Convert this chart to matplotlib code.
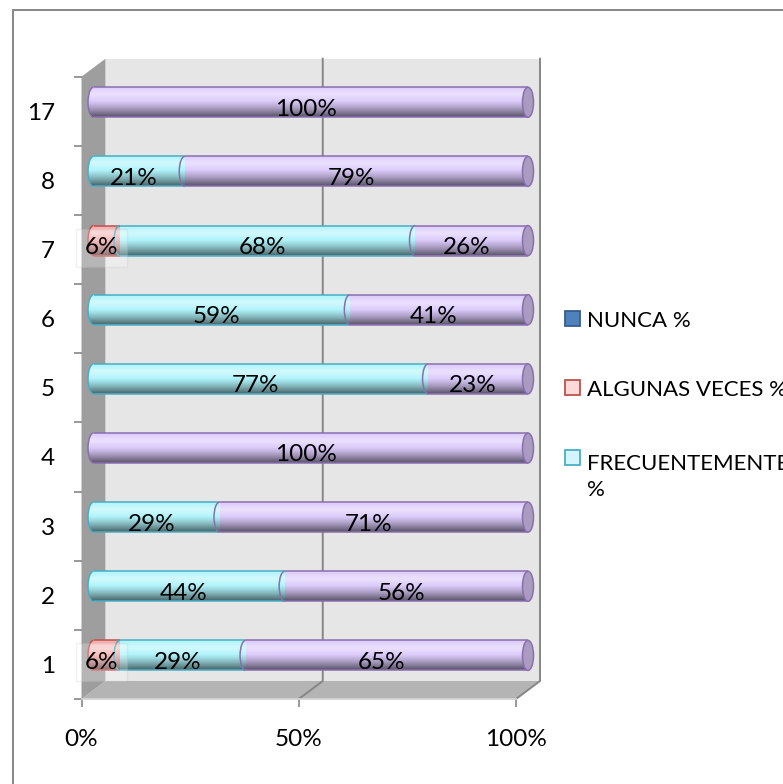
import numpy as np
import matplotlib
matplotlib.use('Agg')
import matplotlib.pyplot as plt
from matplotlib.patches import Polygon, Ellipse, Arc, Rectangle

# datos (de abajo hacia arriba)
categorias = ['1', '2', '3', '4', '5', '6', '7', '8', '17']
nunca = [0, 0, 0, 0, 0, 0, 0, 0, 0]
algunas = [6, 0, 0, 0, 0, 0, 6, 0, 0]
frecuente = [29, 44, 29, 0, 77, 59, 68, 21, 0]
siempre = [65, 56, 71, 100, 23, 41, 26, 79, 100]
nombres = ['NUNCA %', 'ALGUNAS VECES %', 'FRECUENTEMENTE\n%']
ticks_x = ['0%', '50%', '100%']

series = [nunca, algunas, frecuente, siempre]
relleno = ['#4f81bd', '#f6a8a8', '#b0f4fb', '#dccbfb']
borde = ['#385d8a', '#c0504d', '#4bacc6', '#8a6fb0']

plt.rcParams['font.family'] = ['Lato', 'DejaVu Sans']
FS = 17.5

W, H = 783, 784
fig = plt.figure(figsize=(W / 100, H / 100), dpi=100)
fig.patch.set_facecolor('white')

# plano frontal en pixeles
x0, x1, y0, y1 = 81.5, 516, 699, 76.7
ax = fig.add_axes([x0 / W, 1 - y0 / H, (x1 - x0) / W, (y0 - y1) / H])
ax.patch.set_visible(False)
n = len(categorias)
sx = 100 / (x1 - x0)
sy = n / (y0 - y1)
dx, dy = 24 * sx, 18 * sy      # profundidad 3D
mx, my = dx / 2, dy / 2        # plano medio de las barras
bh = 30 * sy                   # alto del cilindro
ew = 11 * sx                   # ancho de la elipse de la tapa

# paredes
ax.add_patch(Polygon([(dx, -0.5 + dy), (100 + dx, -0.5 + dy), (100 + dx, n - 0.5 + dy), (dx, n - 0.5 + dy)],
                     fc='#e6e6e6', ec='none', zorder=0, clip_on=False))
ax.add_patch(Polygon([(0, -0.5), (100, -0.5), (100 + dx, -0.5 + dy), (dx, -0.5 + dy)],
                     fc='#b4b4b4', ec='none', zorder=0.5, clip_on=False))
ax.add_patch(Polygon([(0, -0.5), (0, n - 0.5), (dx, n - 0.5 + dy), (dx, -0.5 + dy)],
                     fc='#9e9e9e', ec='none', zorder=0.6, clip_on=False))
for xv in [50, 100]:
    ax.plot([xv, xv + dx, xv + dx], [-0.5, -0.5 + dy, n - 0.5 + dy], color='#868686', lw=1.4,
            clip_on=False, zorder=0.8)

# barras apiladas
y = np.arange(n) + my
left = np.zeros(n)
inicios = []
for k, vals in enumerate(series):
    vals = np.array(vals, float)
    inicios.append(left.copy())
    ax.barh(y, vals, left=left + mx, height=bh, color=relleno[k], lw=0, zorder=3, clip_on=False)
    left += vals

# sombreado del cilindro
t = np.linspace(0, 1, 60)
a_bl = 0.4 * np.exp(-((t - 0.25) / 0.15) ** 2)
a_ng = np.where(t > 0.45, 0.6 * ((t - 0.45) / 0.55) ** 1.3, 0)
grad = np.zeros((60, 1, 4))
grad[:, 0, :3] = np.where(a_bl[:, None] > a_ng[:, None], 1.0, 0.0)
grad[:, 0, 3] = np.maximum(a_bl, a_ng)

th = np.linspace(np.pi / 2, 3 * np.pi / 2, 40)
for i in range(n):
    yc = y[i]
    segs = [(k, inicios[k][i], series[k][i]) for k in range(len(series)) if series[k][i] > 0]
    pts = list(zip(mx + ew / 2 * np.cos(th), yc + bh / 2 * np.sin(th)))
    pts += [(100 + mx, yc - bh / 2), (100 + mx, yc + bh / 2)]
    forma = Polygon(pts, closed=True, transform=ax.transData)
    k0 = segs[0][0]
    ax.add_patch(Ellipse((mx, yc), ew, bh, fc=relleno[k0], ec='none', zorder=2.5, clip_on=False))
    im = ax.imshow(grad, extent=(mx - ew / 2, 100 + mx, yc - bh / 2, yc + bh / 2), aspect='auto',
                   interpolation='bilinear', zorder=4)
    im.set_clip_path(forma)
    im.set_clip_box(fig.bbox)
    for j, (k, s, v) in enumerate(segs):
        ax.hlines([yc - bh / 2, yc + bh / 2], s + mx, s + v + mx, colors=borde[k], lw=1.1,
                  zorder=5, clip_on=False)
        ax.add_patch(Arc((s + mx, yc), ew, bh, theta1=90, theta2=270, ec=borde[k], lw=1.1,
                         zorder=5, clip_on=False))
        caja = dict(boxstyle='square,pad=0.35', fc=(1, 1, 1, 0.25), ec=(0.7, 0.7, 0.7, 0.2)) if k == 1 else None
        ax.text(s + v / 2 + mx - 5 * sx, yc - 13.5 * sy, f'{v:.0f}%', ha='center', va='baseline',
                fontsize=FS, zorder=7, bbox=caja)
    kl = segs[-1][0]
    ax.add_patch(Ellipse((100 + mx, yc), ew, bh, fc='#a99cc0', ec=borde[kl], lw=1.1, zorder=5,
                         clip_on=False))

ax.set_xlim(0, 100)
ax.set_ylim(-0.5, n - 0.5)
ax.set_yticks(range(n))
ax.set_yticklabels(categorias)
ax.set_yticks(np.arange(-0.5, n, 1), minor=True)
ax.tick_params(axis='y', which='major', length=0, pad=19, labelsize=FS)
ax.tick_params(axis='y', which='minor', length=5.5, color='#888888', width=1.2)
ax.set_xticks([0, 50, 100])
ax.set_xticklabels(ticks_x)
ax.tick_params(axis='x', length=5.5, color='#888888', width=1.2, pad=16, labelsize=FS)
for lado in ['left', 'top', 'right']:
    ax.spines[lado].set_visible(False)
ax.spines['bottom'].set_color('#d4d4d4')
ax.spines['bottom'].set_linewidth(1.3)

# leyenda (linea base de la primera linea de cada entrada)
claros = ['#4f81bd', '#fdd9d9', '#d2f6fc']
for k, (nom, yb) in enumerate(zip(nombres, [327, 396, 466])):
    fig.add_artist(Rectangle((565 / W, 1 - (yb - 1) / H), 15 / W, 15 / H, transform=fig.transFigure,
                             fc=claros[k], ec=borde[k], lw=1.3))
    extra = 30 * nom.count('\n')
    fig.text(587 / W, 1 - (yb + extra) / H, nom, ha='left', va='baseline', fontsize=16, linespacing=1.35)

# marco exterior
fig.add_artist(Rectangle((13 / W, -0.1), 1.2, (H - 10) / H + 0.1, transform=fig.transFigure,
                         fill=False, ec='#868686', lw=1.4))

fig.savefig('out.png', dpi=100)
